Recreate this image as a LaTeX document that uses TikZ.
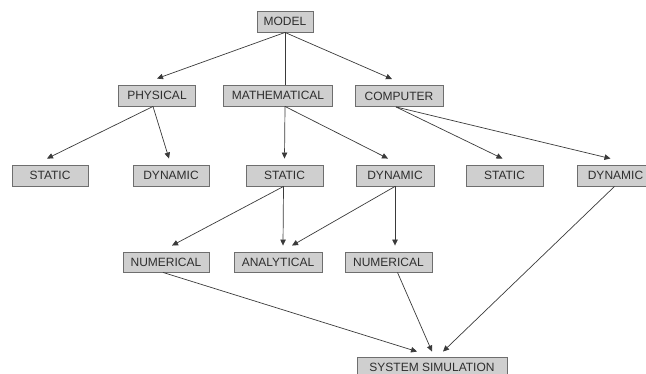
\documentclass[tikz,border=0pt]{standalone}
\usepackage{fontspec}
\setmainfont{Liberation Sans}
\usetikzlibrary{arrows.meta}
\definecolor{boxfill}{HTML}{CFCFCF}
\definecolor{boxline}{HTML}{6E6E6E}
\definecolor{inkline}{HTML}{3A3A3A}
\definecolor{labeltext}{HTML}{2E2E2E}
\begin{document}
\begin{tikzpicture}[x=1pt,y=-1pt,
  box/.style={draw=boxline,fill=boxfill,line width=0.9pt,inner sep=0pt,
    minimum height=21pt,text=labeltext,
    font=\fontsize{12}{13}\selectfont},
  conn/.style={draw=inkline,line width=0.7pt,
    -{Triangle[width=5.5pt,length=6pt]}},
  plain/.style={draw=inkline,line width=0.7pt}]
\useasboundingbox (0,0) rectangle (646,374);

% level 0
\node[box,minimum width=56pt] (model) at (285,21.5) {MODEL};
% level 1
\node[box,minimum width=77pt] (phys) at (157,95.5) {PHYSICAL};
\node[box,minimum width=109pt] (math) at (278,95.5) {MATHEMATICAL};
\node[box,minimum width=88pt] (comp) at (399,96) {COMPUTER};
% level 2
\node[box,minimum width=76pt] (pstat) at (50,175.5) {STATIC};
\node[box,minimum width=76pt] (pdyn) at (171,175.5) {DYNAMIC};
\node[box,minimum width=77pt] (mstat) at (284.5,175.5) {STATIC};
\node[box,minimum width=78pt] (mdyn) at (395,175.5) {DYNAMIC};
\node[box,minimum width=77pt] (cstat) at (504.5,175.5) {STATIC};
\node[box,minimum width=77pt] (cdyn) at (615.5,175.5) {DYNAMIC};
% level 3
\node[box,minimum width=86pt,minimum height=20pt] (num1) at (166,262) {NUMERICAL};
\node[box,minimum width=88pt,minimum height=20pt] (anal) at (278,262) {ANALYTICAL};
\node[box,minimum width=87pt,minimum height=20pt] (num2) at (388.5,262) {NUMERICAL};
% level 4
\node[box,minimum width=150pt] (sim) at (432,367.5) {SYSTEM SIMULATION};

% model
\draw[conn] (model.south) -- ([yshift=6pt]phys.north);
\draw[plain] (model.south) -- ([xshift=7pt]math.north);
\draw[conn] (model.south) -- ([xshift=-7pt,yshift=6pt]comp.north);
% physical
\draw[conn] ([xshift=-4pt]phys.south) -- ([xshift=-3pt,yshift=6pt]pstat.north);
\draw[conn] ([xshift=-4pt]phys.south) -- ([xshift=-2pt,yshift=6pt]pdyn.north);
% mathematical
\draw[conn] ([xshift=7pt]math.south) -- ([yshift=6pt]mstat.north);
\draw[conn] ([xshift=7pt]math.south) -- ([xshift=-7pt,yshift=6pt]mdyn.north);
% computer
\draw[conn] ([xshift=-3pt]comp.south) -- ([xshift=-2pt,yshift=6pt]cstat.north);
\draw[conn] ([xshift=-3pt]comp.south) -- ([xshift=-5pt,yshift=6pt]cdyn.north);
% mathematical static / dynamic
\draw[conn] ([xshift=-1pt]mstat.south) -- ([xshift=6pt,yshift=6pt]num1.north);
\draw[conn] ([xshift=-1pt]mstat.south) -- ([xshift=5pt,yshift=6pt]anal.north);
\draw[conn] (mdyn.south) -- ([xshift=14pt,yshift=6pt]anal.north);
\draw[conn] (mdyn.south) -- ([xshift=6.5pt,yshift=6pt]num2.north);
% system simulation
\draw[conn] ([xshift=-3pt]num1.south) -- ([xshift=-15pt,yshift=5pt]sim.north);
\draw[conn] ([xshift=9pt]num2.south) -- ([yshift=5pt]sim.north);
\draw[conn] ([xshift=-1pt]cdyn.south) -- ([xshift=11pt,yshift=5pt]sim.north);
\end{tikzpicture}
\end{document}
